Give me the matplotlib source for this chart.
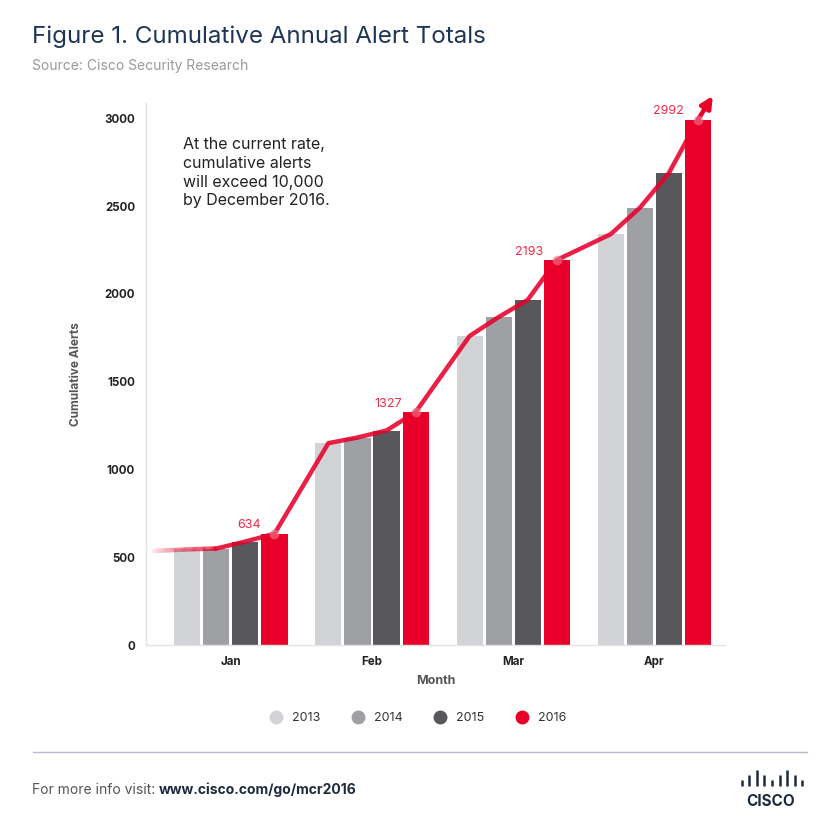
import matplotlib
matplotlib.use("Agg")
import matplotlib.pyplot as plt
from matplotlib.collections import LineCollection
from matplotlib.lines import Line2D
import numpy as np


# Months on the x axis and years in each group
MONTHS = ["Jan", "Feb", "Mar", "Apr"]
YEARS = ["2013", "2014", "2015", "2016"]

# Cumulative alerts per year
ALERTS_2013 = [545, 1150, 1760, 2340]
ALERTS_2014 = [550, 1182, 1868, 2490]
ALERTS_2015 = [590, 1222, 1966, 2688]
ALERTS_2016 = [634, 1327, 2193, 2992]

# Where the faded trend line starts at the left edge
LEAD_IN = 535

# Colors
COLORS = {
    "2013": "#d1d3d6",
    "2014": "#9fa0a4",
    "2015": "#57575c",
    "2016": "#e8002b",
}
RED = "#e8002b"
NAVY = "#1f3556"

plt.rcParams["font.family"] = ["Inter", "DejaVu Sans"]


def main():
    fig = plt.figure(figsize=(8.4, 8.4), dpi=100)
    ax = fig.add_axes([0.174, 0.232, 0.689, 0.645])

    series = [ALERTS_2013, ALERTS_2014, ALERTS_2015, ALERTS_2016]
    step = 0.206
    width = 0.185
    x = np.arange(len(MONTHS))

    # Bars, one per year inside each month group
    for i, (year, vals) in enumerate(zip(YEARS, series)):
        offset = (i - 1.5) * step
        ax.bar(x + offset, vals, width=width, color=COLORS[year], zorder=2, label=year)

    # Trend line through the bar tops, in bar order
    line_x = []
    line_y = []
    for m in range(len(MONTHS)):
        for i, vals in enumerate(series):
            line_x.append(m + (i - 1.5) * step)
            line_y.append(vals[m])
    line_x = np.array(line_x)
    line_y = np.array(line_y)

    x_left = -0.57
    alpha_line = 0.88
    lw = 3.2

    # Faded lead-in from the axis up to the second bar
    fx = np.concatenate([[x_left], line_x[:2]])
    fy = np.concatenate([[LEAD_IN], line_y[:2]])
    dense_x = np.linspace(fx[0], fx[-1], 60)
    dense_y = np.interp(dense_x, fx, fy)
    pts = np.column_stack([dense_x, dense_y]).reshape(-1, 1, 2)
    segs = np.concatenate([pts[:-1], pts[1:]], axis=1)
    ramp = np.linspace(0, 1, len(segs)) ** 0.7
    seg_colors = [matplotlib.colors.to_rgba(RED, a * alpha_line) for a in ramp]
    ax.add_collection(LineCollection(segs, colors=seg_colors, linewidths=lw, zorder=3,
                                     capstyle="butt"))

    ax.plot(line_x[1:], line_y[1:], color=RED, lw=lw, alpha=alpha_line, zorder=3,
            solid_joinstyle="round")

    # Arrow head continuing past the last bar
    ax.annotate("", xy=(line_x[-1] + 0.105, line_y[-1] + 135), xytext=(line_x[-1], line_y[-1]),
                arrowprops=dict(arrowstyle="-|>", color=RED, lw=lw, mutation_scale=17,
                                shrinkA=0, shrinkB=0),
                annotation_clip=False, zorder=4)

    # Dots and value labels on the 2016 bars
    x16 = x + 1.5 * step
    ax.plot(x16, ALERTS_2016, "o", color="#f07a8c", ms=7, alpha=0.6, zorder=4, mec="none")
    for xi, v in zip(x16, ALERTS_2016):
        ax.annotate(str(v), (xi, v), xytext=(-10, 6), textcoords="offset points",
                    ha="right", va="center", fontsize=9, color="#ee2a48")

    # Axes styling
    ax.set_xlim(-0.6, 3.5)
    ax.set_ylim(0, 3085)
    ax.set_yticks([0, 500, 1000, 1500, 2000, 2500, 3000])
    ax.set_xticks(x, labels=MONTHS)
    ax.tick_params(length=0, labelsize=8.3, labelcolor="#222222")
    for lab in ax.get_xticklabels() + ax.get_yticklabels():
        lab.set_fontweight("bold")
    ax.tick_params(axis="y", pad=8)
    ax.tick_params(axis="x", pad=8)
    for side in ["top", "right"]:
        ax.spines[side].set_visible(False)
    for side in ["left", "bottom"]:
        ax.spines[side].set_color("#e3e3e3")
        ax.spines[side].set_linewidth(1.0)

    ax.set_ylabel("Cumulative Alerts", fontsize=8.5, fontweight="bold", color="#555555", labelpad=16)
    ax.set_xlabel("Month", fontsize=9, fontweight="bold", color="#555555", labelpad=5)

    ax.text(0.064, 0.937, "At the current rate,\ncumulative alerts\nwill exceed 10,000\nby December 2016.",
            transform=ax.transAxes, ha="left", va="top", fontsize=11.5, color="#222222",
            linespacing=1.3)

    # Legend with round markers
    handles = [Line2D([], [], marker="o", ls="none", ms=10, color=COLORS[y], mec="none") for y in YEARS]
    fig.legend(handles, YEARS, loc="center", bbox_to_anchor=(0.494, 0.145), ncol=4, frameon=False,
               fontsize=9, handletextpad=0.3, columnspacing=2.0, labelcolor="#333333")

    # Title block
    fig.text(0.038, 0.956, "Figure 1. Cumulative Annual Alert Totals", fontsize=17.4, color=NAVY,
             ha="left", va="center", fontweight="normal")
    fig.text(0.038, 0.921, "Source: Cisco Security Research", fontsize=10, color="#9a9a9a",
             ha="left", va="center")

    # Footer
    fig.add_artist(Line2D([0.039, 0.961], [0.105, 0.105], color="#b5bccb", lw=1.0))
    t = fig.text(0.038, 0.060, "For more info visit: ", fontsize=10, color="#555555",
                 ha="left", va="center")
    fig.canvas.draw()
    bb = t.get_window_extent().transformed(fig.transFigure.inverted())
    fig.text(bb.x1, 0.060, "www.cisco.com/go/mcr2016", fontsize=10, color="#1d2a3e",
             ha="left", va="center", fontweight="bold")

    # Cisco logo
    heights = [0.4, 0.7, 1.0, 0.7, 0.4, 0.7, 1.0, 0.7, 0.4]
    lx = np.linspace(0.883, 0.955, len(heights))
    for xx, h in zip(lx, heights):
        fig.add_artist(Line2D([xx, xx], [0.064, 0.064 + 0.019 * h], color="#1d2a3e", lw=1.8,
                              solid_capstyle="butt"))
    fig.text(0.918, 0.046, "CISCO", fontsize=11, color="#1d2a3e", ha="center", va="center",
             fontweight="bold")

    fig.savefig("out.png", dpi=100)


if __name__ == "__main__":
    main()
